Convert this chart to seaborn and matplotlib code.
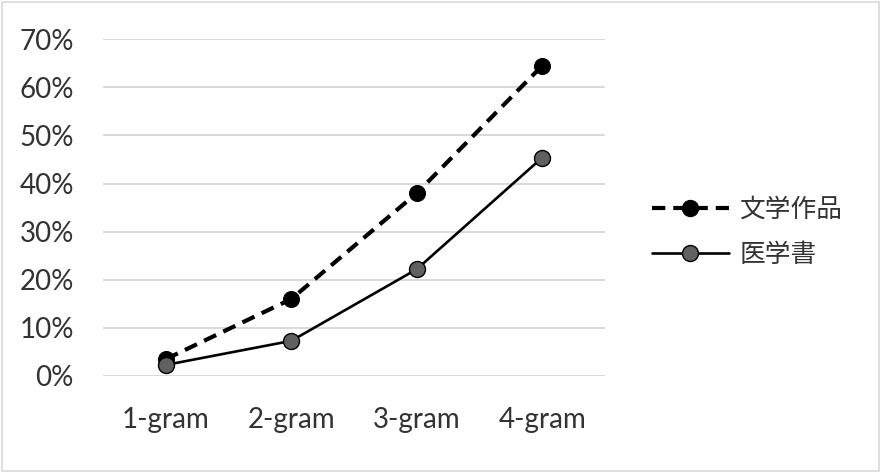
import matplotlib
matplotlib.use("Agg")
import matplotlib.pyplot as plt
import seaborn as sns
import pandas as pd
from matplotlib.lines import Line2D
from matplotlib.patches import Rectangle

categories = ["1-gram", "2-gram", "3-gram", "4-gram"]
series_names = ["文学作品", "医学書"]
literature = [0.035, 0.16, 0.38, 0.645]
medical = [0.023, 0.073, 0.222, 0.454]
y_ticks = [0, 0.1, 0.2, 0.3, 0.4, 0.5, 0.6, 0.7]
y_tick_labels = ["0%", "10%", "20%", "30%", "40%", "50%", "60%", "70%"]

sns.set_theme(style="white")
plt.rcParams["font.family"] = ["Lato", "Noto Sans CJK JP", "DejaVu Sans"]

df = pd.DataFrame({
    "n": categories * 2,
    "rate": literature + medical,
    "series": [series_names[0]] * 4 + [series_names[1]] * 4,
})

DASH = (0, (3.2, 1.9))

fig = plt.figure(figsize=(8.82, 4.72), dpi=100)
ax = fig.add_axes([0.1168, 0.2034, 0.686 - 0.1168, 0.917 - 0.2034])

d1 = df[df.series == series_names[0]]
d2 = df[df.series == series_names[1]]
sns.lineplot(data=d1, x="n", y="rate", ax=ax, color="black", linewidth=3.0,
             linestyle=DASH, marker="o", markersize=11.5,
             markerfacecolor="black", markeredgecolor="black", zorder=3)
sns.lineplot(data=d2, x="n", y="rate", ax=ax, color="black", linewidth=1.9,
             marker="o", markersize=11.5, markerfacecolor="#606060",
             markeredgecolor="black", markeredgewidth=1.0, zorder=4)

ax.set_xlim(-0.5, 3.5)
ax.set_ylim(0, 0.7)
ax.set_yticks(y_ticks)
ax.set_yticklabels(y_tick_labels)
ax.set_xlabel("")
ax.set_ylabel("")
ax.grid(axis="y", color="#D9D9D9", linewidth=1.4)
ax.set_axisbelow(True)
for s in ax.spines.values():
    s.set_visible(False)
ax.tick_params(axis="both", length=0, labelsize=20, colors="#333333")
ax.tick_params(axis="y", pad=21)
ax.tick_params(axis="x", pad=22)

handles = [
    Line2D([], [], color="black", linewidth=3.0, linestyle=DASH,
           marker="o", markersize=11.5, markerfacecolor="black", markeredgecolor="black"),
    Line2D([], [], color="black", linewidth=1.9, marker="o", markersize=11.5,
           markerfacecolor="#606060", markeredgecolor="black"),
]
leg = fig.legend(handles, series_names, loc="center left", bbox_to_anchor=(0.739, 0.508),
                 frameon=False, handlelength=3.0, labelspacing=0.75, borderpad=0,
                 borderaxespad=0, handletextpad=0.4,
                 prop={"family": ["Noto Sans CJK JP"], "size": 18.5})
for t in leg.get_texts():
    t.set_color("#333333")

fig.patches.append(Rectangle((0.002, 0.003), 0.995, 0.993, transform=fig.transFigure,
                             fill=False, edgecolor="#D9D9D9", linewidth=1.2))
fig.savefig("out.png", dpi=100, facecolor="white")
